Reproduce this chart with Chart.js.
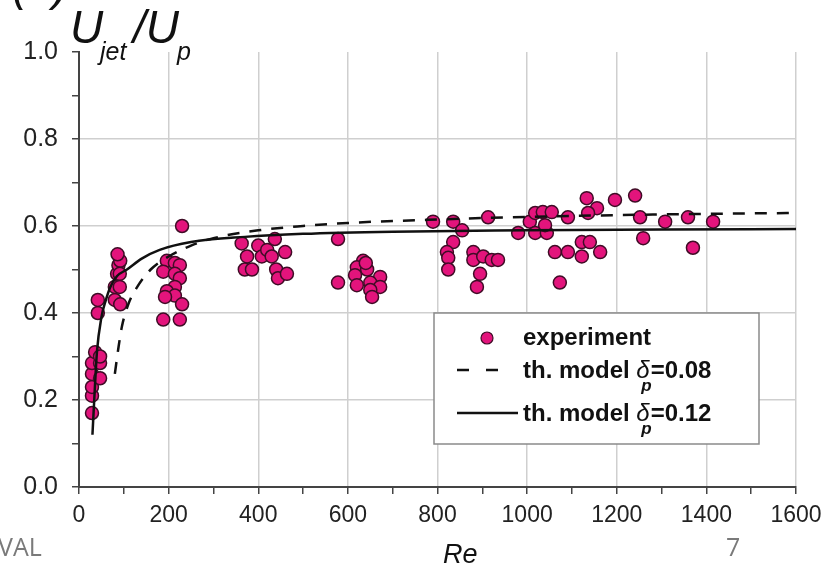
<!DOCTYPE html>
<html>
<head>
<meta charset="utf-8">
<script src="https://cdn.jsdelivr.net/npm/chart.js@4.4.1/dist/chart.umd.min.js"></script>
<style>
  body { margin: 0; background: #fff; }
  #wrap { width: 830px; height: 566px; }
</style>
</head>
<body>
<div id="wrap"><canvas id="chart" width="830" height="566"></canvas></div>
<script>
// experiment points, Re and Ujet/Up
const experimentRe = [
    29, 29, 29, 29, 47, 29, 47, 36, 47, 42, 42,
    80, 92, 80, 91, 85, 88, 92, 86, 91,
    230, 196, 214, 225, 188, 214, 225, 214, 196, 214, 192, 230, 188, 225,
    363, 375, 370, 386, 400, 408, 420, 437, 460, 440, 444, 464, 430,
    578, 578, 634, 620, 643, 616, 672, 650, 620, 672, 650, 654, 640,
    790, 835, 855, 835, 821, 824, 824, 913, 880, 880, 902, 921, 935, 895, 888,
    980, 1006, 1018, 1035, 1055, 1018, 1044, 1040, 1091, 1133, 1156, 1136,
    1122, 1140, 1163, 1122, 1062, 1091, 1073,
    1196, 1241, 1252, 1259, 1308, 1359, 1370, 1415
];
const experimentU = [
    0.17, 0.21, 0.23, 0.26, 0.25, 0.285, 0.285, 0.31, 0.30, 0.40, 0.43,
    0.43, 0.42, 0.46, 0.46, 0.49, 0.51, 0.52, 0.535, 0.49,
    0.60, 0.52, 0.515, 0.51, 0.495, 0.49, 0.48, 0.46, 0.45, 0.44, 0.437, 0.42, 0.385, 0.385,
    0.56, 0.53, 0.50, 0.50, 0.555, 0.53, 0.545, 0.57, 0.54, 0.50, 0.48, 0.49, 0.53,
    0.57, 0.47, 0.52, 0.505, 0.50, 0.487, 0.483, 0.47, 0.464, 0.46, 0.453, 0.437, 0.515,
    0.61, 0.61, 0.59, 0.563, 0.54, 0.527, 0.50, 0.62, 0.54, 0.522, 0.53, 0.522, 0.522, 0.49, 0.46,
    0.584, 0.61, 0.63, 0.632, 0.632, 0.584, 0.584, 0.602, 0.62, 0.664, 0.641, 0.63,
    0.563, 0.563, 0.54, 0.53, 0.54, 0.54, 0.47,
    0.66, 0.67, 0.62, 0.572, 0.61, 0.62, 0.55, 0.61
];

// theoretical model, delta_p = 0.08 (dashed)
const model008Re = [80, 88, 96, 110, 130, 160, 200, 250, 300, 400, 500, 600, 800, 1000, 1200, 1400, 1600];
const model008U = [0.26, 0.32, 0.37, 0.42, 0.46, 0.50, 0.53, 0.555, 0.572, 0.59, 0.60, 0.607, 0.615, 0.621, 0.625, 0.628, 0.63];

// theoretical model, delta_p = 0.12 (solid)
const model012Re = [30, 35, 40, 50, 60, 70, 85, 107, 140, 180, 250, 370, 500, 700, 1000, 1300, 1600];
const model012U = [0.12, 0.22, 0.31, 0.39, 0.43, 0.46, 0.485, 0.50, 0.525, 0.545, 0.563, 0.575, 0.582, 0.587, 0.59, 0.592, 0.593];

const legendLabels = ['experiment', 'th. model ', 'th. model '];
const legendDeltas = ['', '=0.08', '=0.12'];

const PINK = '#e3147c';
const PINK_EDGE = '#3f0c26';
const FONT = "'Liberation Sans', Arial, sans-serif";

function toPoints(xs, ys) {
    return xs.map((x, i) => ({x: x, y: ys[i]}));
}

// legend, title and the stray slide text, drawn on top
const extras = {
    id: 'extras',
    afterDraw(chart) {
        const c = chart.ctx;
        c.save();

        // legend box
        c.fillStyle = '#fff';
        c.fillRect(434, 313, 325, 131);
        c.strokeStyle = '#8a8a8a';
        c.lineWidth = 1.5;
        c.strokeRect(434, 313, 325, 131);

        c.beginPath();
        c.arc(487, 338, 6, 0, Math.PI * 2);
        c.fillStyle = PINK;
        c.fill();
        c.strokeStyle = PINK_EDGE;
        c.lineWidth = 1.2;
        c.stroke();

        c.strokeStyle = '#111';
        c.lineWidth = 2.5;
        c.beginPath();
        c.moveTo(457, 370); c.lineTo(469, 370);
        c.moveTo(486, 370); c.lineTo(498, 370);
        c.moveTo(457, 413); c.lineTo(518, 413);
        c.stroke();

        c.fillStyle = '#111';
        c.textBaseline = 'alphabetic';
        c.textAlign = 'left';
        const rows = [345, 378, 421];
        rows.forEach((base, i) => {
            c.font = 'bold 24px ' + FONT;
            c.fillText(legendLabels[i], 523, base);
            if (!legendDeltas[i]) return;
            let x = 523 + c.measureText(legendLabels[i]).width;
            c.font = 'italic 24px ' + FONT;
            c.fillText('δ', x, base);
            const w = c.measureText('δ').width;
            c.font = 'bold italic 17px ' + FONT;
            c.fillText('p', x + 5, base + 13);
            c.font = 'bold 24px ' + FONT;
            c.fillText(legendDeltas[i], x + w + 1, base);
        });

        // y title U_jet / U_p
        c.fillStyle = '#111';
        c.font = 'italic 46px ' + FONT;
        c.fillText('U', 70, 43);
        c.fillText('/U', 133, 43);
        c.font = 'italic 25px ' + FONT;
        c.fillText('jet', 100, 60);
        c.fillText('p', 177, 60);
        c.font = 'italic 46px ' + FONT;
        c.fillText('(a)', 12, 0);

        // x title
        c.font = 'italic 27px ' + FONT;
        c.fillText('Re', 443, 563);

        // slide leftovers
        c.fillStyle = '#7a7a7a';
        c.font = "25px 'Open Sans', sans-serif";
        c.fillText('VAL', -2, 556);
        c.fillText('7', 726, 556);

        c.restore();
    }
};

Chart.defaults.font.family = FONT;
Chart.defaults.color = '#222';

new Chart(document.getElementById('chart'), {
    type: 'scatter',
    plugins: [extras],
    data: {
        datasets: [
            {
                label: 'experiment',
                data: toPoints(experimentRe, experimentU),
                pointRadius: 6.5,
                pointBorderWidth: 1.5,
                backgroundColor: PINK,
                borderColor: PINK_EDGE,
                order: 2
            },
            {
                label: 'th. model δp=0.08',
                type: 'line',
                data: toPoints(model008Re, model008U),
                showLine: true,
                pointRadius: 0,
                borderColor: '#111',
                borderWidth: 2.5,
                borderDash: [12, 10],
                cubicInterpolationMode: 'monotone',
                fill: false,
                order: 1
            },
            {
                label: 'th. model δp=0.12',
                type: 'line',
                data: toPoints(model012Re, model012U),
                showLine: true,
                pointRadius: 0,
                borderColor: '#111',
                borderWidth: 2.5,
                cubicInterpolationMode: 'monotone',
                fill: false,
                order: 0
            }
        ]
    },
    options: {
        responsive: false,
        animation: false,
        layout: {padding: {top: 52, right: 34, left: 0, bottom: 0}},
        plugins: {
            legend: {display: false},
            tooltip: {enabled: false}
        },
        scales: {
            x: {
                type: 'linear',
                min: 0,
                max: 1600,
                afterFit: s => { s.height = 79; },
                border: {color: '#444', width: 2},
                grid: {
                    color: ctx => (ctx.tick && ctx.tick.value % 200 === 0 && ctx.tick.value > 0) ? '#cfcfcf' : 'rgba(0,0,0,0)',
                    lineWidth: 1.5,
                    tickColor: '#444',
                    tickWidth: 1.5,
                    tickLength: 7
                },
                ticks: {
                    stepSize: 100,
                    autoSkip: false,
                    maxRotation: 0,
                    padding: 8,
                    font: {size: 23},
                    color: '#222',
                    callback: v => (v % 200 === 0 ? String(v) : '')
                }
            },
            y: {
                min: 0,
                max: 1,
                afterFit: s => { s.width = 79; },
                border: {color: '#444', width: 2},
                grid: {
                    color: ctx => {
                        if (!ctx.tick) return 'rgba(0,0,0,0)';
                        const k = Math.round(ctx.tick.value * 10);
                        return (k % 2 === 0 && k > 0 && k < 10) ? '#cfcfcf' : 'rgba(0,0,0,0)';
                    },
                    lineWidth: 1.5,
                    tickColor: '#444',
                    tickWidth: 1.5,
                    tickLength: 7
                },
                ticks: {
                    stepSize: 0.1,
                    autoSkip: false,
                    padding: 14,
                    font: {size: 25},
                    color: '#222',
                    callback: v => (Math.round(v * 10) % 2 === 0 ? v.toFixed(1) : '')
                }
            }
        }
    }
});
</script>
</body>
</html>
